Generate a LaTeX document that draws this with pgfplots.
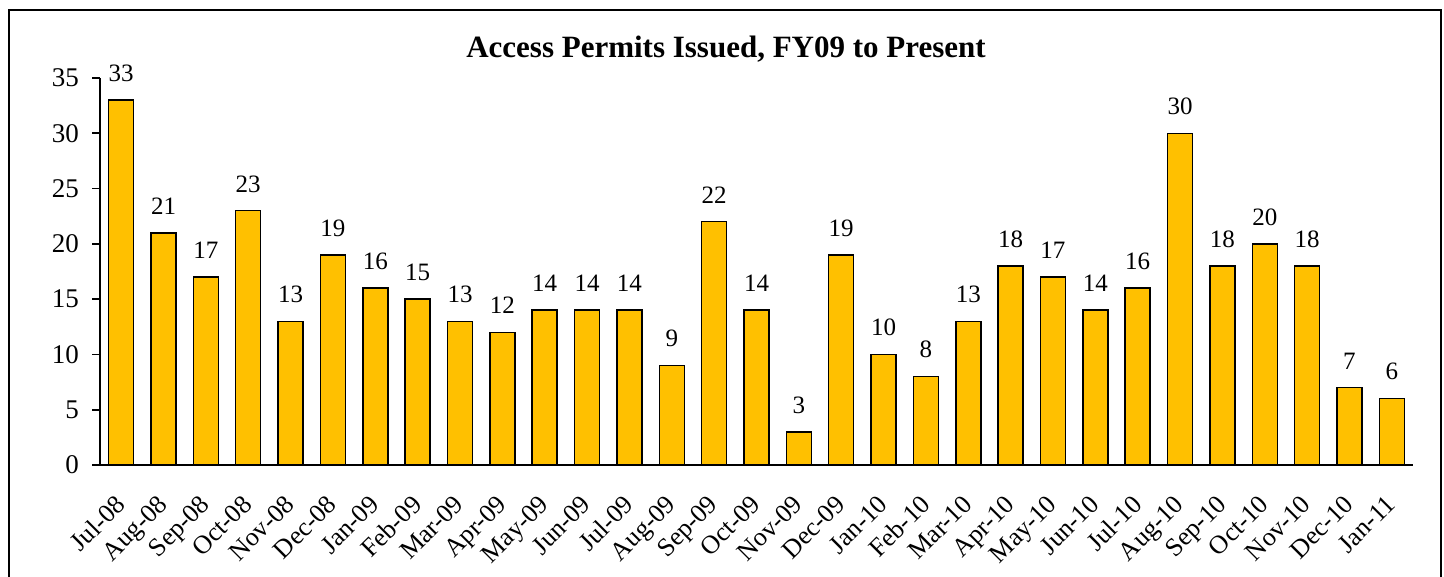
\documentclass[border=0pt]{standalone}
\usepackage{pgfplots}
\pgfplotsset{compat=1.18}
\usepackage{fontspec}
\setmainfont{Liberation Serif}
\definecolor{bargold}{HTML}{FFC000}

\begin{document}
\begin{tikzpicture}
% 1 px of the reference = 0.5pt
\useasboundingbox (0,0) rectangle (722pt,288.5pt);
\draw[line width=1pt] (4.5pt,-5pt) -- (4.5pt,283.5pt) -- (720.5pt,283.5pt) -- (720.5pt,-5pt);
\node[font=\fontsize{15.5}{17}\selectfont\bfseries] at (363pt,264pt) {Access Permits Issued, FY09 to Present};
\begin{axis}[
	at={(50pt,56pt)}, anchor=south west,
	scale only axis,
	width=656.5pt, height=193.5pt,
	xmin=-0.5, xmax=30.5,
	ymin=0, ymax=35,
	ytick={0,5,...,35},
	xtick=data,
	xticklabels={Jul-08,Aug-08,Sep-08,Oct-08,Nov-08,Dec-08,Jan-09,Feb-09,Mar-09,Apr-09,May-09,Jun-09,Jul-09,Aug-09,Sep-09,Oct-09,Nov-09,Dec-09,Jan-10,Feb-10,Mar-10,Apr-10,May-10,Jun-10,Jul-10,Aug-10,Sep-10,Oct-10,Nov-10,Dec-10,Jan-11},
	x tick label style={rotate=45, anchor=north east, yshift=-3.6pt, xshift=-8.7pt, inner sep=1pt,
		font=\fontsize{13}{15}\selectfont},
	axis x line=bottom, axis y line=left,
	axis line style={-, line width=0.9pt},
	y tick style={line width=0.9pt, black},
	major tick length=4pt,
	tick align=outside,
	xtick style={draw=none},
	y tick label style={xshift=-3pt, font=\fontsize{13.5}{15}\selectfont},
	/pgf/number format/assume math mode=true,
	clip=false,
]
\addplot[ybar, bar width=12.5pt, fill=bargold, draw=black, line width=0.75pt,
	nodes near coords, nodes near coords style={font=\fontsize{12.5}{14}\selectfont, yshift=5.5pt}]
	coordinates {
	(0,33)(1,21)(2,17)(3,23)(4,13)(5,19)(6,16)(7,15)(8,13)(9,12)(10,14)
	(11,14)(12,14)(13,9)(14,22)(15,14)(16,3)(17,19)(18,10)(19,8)(20,13)
	(21,18)(22,17)(23,14)(24,16)(25,30)(26,18)(27,20)(28,18)(29,7)(30,6)
};
\end{axis}
\end{tikzpicture}
\end{document}
